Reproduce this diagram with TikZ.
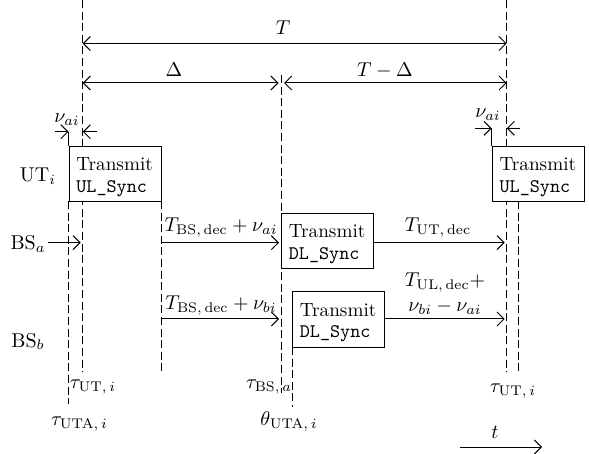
\documentclass[tikz,border=0pt]{standalone}
\usetikzlibrary{arrows.meta}
\begin{document}
\begin{tikzpicture}[x=0.5pt,y=-0.5pt,
  dline/.style={line width=0.5pt, dash pattern=on 4pt off 1.8pt},
  tip/.tip={Straight Barb[length=3.5pt,width=7pt]},
  arr/.style={line width=0.5pt, -tip, shorten >=1pt},
  darr/.style={line width=0.5pt, tip-tip},
  tick/.style={line width=0.5pt},
  txbox/.style={draw, fill=white, line width=0.5pt, text width=38.8pt, inner xsep=3.7pt, inner ysep=0pt,
    text height=12pt, text depth=15.5pt, align=left, anchor=north west,
    font=\fontsize{9.6}{10.85}\selectfont},
  lab/.style={inner sep=0pt, anchor=base}
]
\useasboundingbox (0,0) rectangle (589,454);

% coordinates of the time lines
\coordinate (Atop) at (82.7,0);    \coordinate (Abot) at (82.7,372);
\coordinate (Btop) at (68.5,201);  \coordinate (Bbot) at (68.5,404);
\coordinate (Ctop) at (161,201);   \coordinate (Cbot) at (161,373);
\coordinate (Dtop) at (281,75);    \coordinate (Dbot) at (281,393);
\coordinate (Etop) at (292,347);   \coordinate (Ebot) at (292,407);
\coordinate (Ftop) at (506.7,0);   \coordinate (Fbot) at (506.7,372);
\coordinate (Gtop) at (518,201);   \coordinate (Gbot) at (518,373);

\draw[dline] (Atop) -- (Abot);
\draw[dline] (Btop) -- (Bbot);
\draw[dline] (Ctop) -- (Cbot);
\draw[dline] (Dtop) -- (Dbot);
\draw[dline] (Etop) -- (Ebot);
\draw[dline] (Ftop) -- (Fbot);
\draw[dline] (Gtop) -- (Gbot);

% boxes
\node[txbox] (ul1) at (68.5,146) {Transmit\\\texttt{UL\_Sync}};
\node[txbox] (ul2) at (491.7,146) {Transmit\\\texttt{UL\_Sync}};
\node[txbox] (dla) at (281,213.5) {Transmit\\\texttt{DL\_Sync}};
\node[txbox] (dlb) at (292,291.5) {Transmit\\\texttt{DL\_Sync}};

% period arrows
\coordinate (T1) at (82.7,43.5);  \coordinate (T2) at (506.7,43.5);
\draw[darr] (T1) -- (T2);
\node[lab] (lT) at (283,35) {$T$};
\coordinate (D1) at (82.7,83);  \coordinate (D2) at (278.5,83);
\coordinate (D3) at (284,83);   \coordinate (D4) at (506.7,83);
\draw[darr] (D1) -- (D2);
\draw[darr] (D3) -- (D4);
\node[lab] (lD) at (174,77) {$\Delta$};
\node[lab] (lTD) at (385,77) {$T-\Delta$};

% nu_ai offsets
\coordinate (n1a) at (55,131.7);   \coordinate (n1b) at (68.5,131.7);
\coordinate (n1c) at (96.7,131.7); \coordinate (n1d) at (82.7,131.7);
\draw[tick] (n1b) -- (ul1.north west);
\draw[arr, shorten >=0pt] (n1a) -- (n1b);
\draw[arr, shorten >=0pt] (n1c) -- (n1d);
\node[lab] (lnu1) at (67,123) {$\nu_{ai}$};
\coordinate (n2a) at (475,128.3);   \coordinate (n2b) at (491.7,128.3);
\coordinate (n2c) at (520,128.3);   \coordinate (n2d) at (506.7,128.3);
\draw[tick] (n2b) -- (ul2.north west);
\draw[arr, shorten >=0pt] (n2a) -- (n2b);
\draw[arr, shorten >=0pt] (n2c) -- (n2d);
\node[lab] (lnu2) at (488,118) {$\nu_{ai}$};

% row labels
\node[lab] (lUT) at (38,182) {UT$_i$};
\node[lab] (lBSa) at (28,250) {BS$_a$};
\node[lab] (lBSb) at (28,347) {BS$_b$};

% BS_a row
\coordinate (bsa0) at (48,242.7);  \coordinate (bsa1) at (82.7,242.7);
\draw[arr] (bsa0) -- (bsa1);
\coordinate (ra1) at (161,242.7);  \coordinate (ra2) at (281,242.7);
\draw[arr] (ra1) -- (ra2);
\node[lab] (lra) at (221,232) {$T_{\mathrm{BS,\,dec}}+\nu_{ai}$};
\coordinate (ra3) at (506.7,242.7);
\draw[arr] (dla.east |- ra3) -- (ra3);
\node[lab] (lrb) at (438,232) {$T_{\mathrm{UT,\,dec}}$};

% BS_b row
\coordinate (rb1) at (161,319);  \coordinate (rb2) at (281,319);
\draw[arr] (rb1) -- (rb2);
\node[lab] (lrc) at (221,310) {$T_{\mathrm{BS,\,dec}}+\nu_{bi}$};
\coordinate (rb3) at (506.7,319);
\draw[arr] (dlb.east |- rb3) -- (rb3);
\node[lab] (lrd1) at (445,287) {$T_{\mathrm{UL,\,dec}}+$};
\node[lab] (lrd2) at (445,312) {$\nu_{bi}-\nu_{ai}$};

% time marks
\node[lab] (m1) at (93,388) {$\tau_{\mathrm{UT},\,i}$};
\node[lab] (m2) at (79.5,425) {$\tau_{\mathrm{UTA},\,i}$};
\node[lab] (m3) at (269,388) {$\tau_{\mathrm{BS},\,a}$};
\node[lab] (m4) at (289,425) {$\theta_{\mathrm{UTA},\,i}$};
\node[lab] (m5) at (513,393) {$\tau_{\mathrm{UT},\,i}$};

% time axis
\coordinate (t1) at (460,447);  \coordinate (t2) at (542,447);
\draw[arr, shorten >=0pt] (t1) -- (t2);
\node[lab] (lt) at (495,438) {$t$};
\end{tikzpicture}
\end{document}
